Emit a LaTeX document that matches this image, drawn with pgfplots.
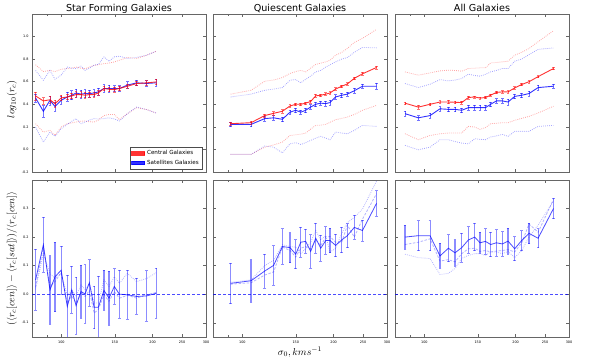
\documentclass[border=0pt]{standalone}
\usepackage{pgfplots}
\pgfplotsset{compat=1.18}
\usepackage{pgfplotstable}
\usepackage{fontspec}
\setmainfont{DejaVu Sans}
\newcommand{\tickfont}{\fontsize{3.4}{4}\selectfont}

\pgfplotstableread{
x r re b be ru bu rl bl
82.2 0.474 0.035 0.456 0.035 0.75 0.70 0.228 0.198
87.2 0.430 0.030 0.338 0.050 0.69 0.613 0.154 0.065
91.7 0.440 0.030 0.435 0.040 0.70 0.70 0.169 0.154
95.3 0.405 0.030 0.380 0.040 0.69 0.622 0.124 0.116
99.8 0.456 0.025 0.435 0.035 0.71 0.658 0.198 0.184
104.6 0.465 0.025 0.465 0.040 0.717 0.73 0.228 0.222
108.2 0.474 0.025 0.480 0.040 0.72 0.72 0.235 0.25
111.8 0.486 0.025 0.500 0.035 0.73 0.717 0.243 0.273
116.1 0.486 0.025 0.490 0.035 0.72 0.738 0.25 0.228
119.7 0.480 0.025 0.495 0.035 0.715 0.70 0.252 0.243
123.7 0.486 0.020 0.495 0.030 0.73 0.72 0.245 0.26
128.2 0.486 0.020 0.500 0.030 0.745 0.747 0.243 0.273
132.4 0.500 0.020 0.510 0.030 0.75 0.753 0.26 0.27
138.2 0.540 0.020 0.540 0.035 0.76 0.82 0.30 0.273
143.6 0.533 0.020 0.540 0.030 0.765 0.78 0.31 0.28
149.5 0.530 0.020 0.540 0.025 0.775 0.82 0.31 0.27
155.4 0.540 0.020 0.540 0.025 0.79 0.826 0.264 0.252
165.1 0.560 0.020 0.570 0.030 0.815 0.806 0.317 0.317
177.2 0.584 0.020 0.590 0.025 0.806 0.815 0.37 0.376
191.2 0.590 0.020 0.585 0.025 0.835 0.835 0.353 0.353
205.3 0.598 0.025 0.590 0.030 0.87 0.87 0.323 0.323
}\tabA

\pgfplotstableread{
x r re b be ru bu rl bl
91.5 0.228 0.015 0.222 0.020 0.49 0.465 -0.044 -0.044
106.8 0.237 0.015 0.222 0.020 0.524 0.49 -0.044 -0.044
118.5 0.300 0.015 0.273 0.020 0.604 0.524 0.02 0.03
126.8 0.320 0.015 0.280 0.020 0.615 0.535 0.04 0.02
135.5 0.338 0.015 0.267 0.020 0.637 0.548 0.065 -0.03
143.6 0.385 0.012 0.330 0.020 0.673 0.613 0.124 0.05
150.0 0.400 0.012 0.347 0.020 0.69 0.619 0.13 0.06
155.8 0.400 0.012 0.330 0.020 0.70 0.59 0.135 0.044
161.8 0.410 0.012 0.347 0.020 0.687 0.622 0.145 0.06
168.0 0.425 0.012 0.376 0.020 0.72 0.65 0.18 0.08
174.6 0.475 0.012 0.400 0.020 0.753 0.687 0.213 0.10
181.4 0.480 0.012 0.410 0.020 0.765 0.70 0.215 0.116
188.4 0.490 0.012 0.406 0.020 0.776 0.73 0.222 0.10
194.6 0.500 0.012 0.415 0.020 0.79 0.75 0.24 0.086
203.0 0.535 0.012 0.465 0.020 0.835 0.776 0.264 0.154
212.7 0.560 0.012 0.480 0.020 0.86 0.80 0.275 0.145
222.0 0.580 0.012 0.490 0.020 0.895 0.815 0.287 0.139
234.0 0.630 0.012 0.520 0.020 0.948 0.86 0.31 0.169
249.0 0.670 0.012 0.560 0.020 0.984 0.904 0.347 0.213
277.0 0.726 0.012 0.560 0.028 1.064 0.90 0.39 0.204
}\tabB

\pgfplotstableread{
x r re b be ru bu rl bl
86.3 0.410 0.012 0.317 0.020 0.687 0.584 0.139 0.036
95.5 0.375 0.015 0.280 0.020 0.658 0.548 0.086 -0.003
104.4 0.400 0.012 0.300 0.022 0.678 0.578 0.124 0.02
112.6 0.420 0.012 0.360 0.020 0.696 0.619 0.139 0.086
120.0 0.420 0.015 0.355 0.020 0.702 0.607 0.145 0.086
126.2 0.418 0.012 0.355 0.020 0.70 0.615 0.145 0.07
132.8 0.415 0.012 0.347 0.020 0.693 0.628 0.145 0.056
139.7 0.460 0.012 0.370 0.020 0.717 0.667 0.204 0.05
146.6 0.465 0.010 0.370 0.020 0.72 0.655 0.198 0.095
152.6 0.455 0.010 0.370 0.020 0.723 0.649 0.178 0.09
159.0 0.460 0.010 0.370 0.020 0.723 0.665 0.193 0.086
165.5 0.480 0.010 0.400 0.020 0.767 0.687 0.228 0.11
172.8 0.505 0.010 0.430 0.020 0.77 0.70 0.232 0.12
180.9 0.510 0.010 0.430 0.020 0.776 0.717 0.237 0.133
188.8 0.510 0.010 0.420 0.025 0.782 0.717 0.237 0.116
198.6 0.545 0.010 0.470 0.020 0.835 0.782 0.258 0.16
209.4 0.575 0.010 0.480 0.020 0.86 0.80 0.275 0.16
221.4 0.600 0.010 0.495 0.020 0.895 0.84 0.293 0.16
237.2 0.645 0.010 0.548 0.020 0.954 0.886 0.323 0.204
266.6 0.717 0.010 0.560 0.020 1.052 0.90 0.382 0.213
}\tabC

\pgfplotstableread{
x s se d t
82.2 0.050 0.107 0.024 0.017
87.2 0.173 0.096 0.167 0.142
91.7 0.015 0.120 0.027 0.073
95.3 0.061 0.122 0.044 0.055
99.8 0.084 0.084 0.075 0.073
104.6 -0.043 0.110 -0.031 -0.006
108.2 0.015 0.082 -0.006 0.015
111.8 -0.040 0.100 -0.031 -0.006
116.1 0.009 0.092 0.006 0.032
119.7 0.001 0.102 -0.008 0.017
123.7 0.040 0.081 0.013 0.038
128.2 -0.046 0.075 -0.066 -0.031
132.4 -0.046 0.110 -0.054 -0.031
138.2 0.013 0.070 -0.002 0.050
143.6 -0.014 0.095 -0.025 0.027
149.5 0.027 0.062 0.009 0.061
155.4 0.000 0.084 -0.014 0.038
165.1 -0.002 0.085 -0.004 0.073
177.2 -0.008 0.063 -0.014 0.044
191.2 -0.006 0.088 -0.002 0.055
205.3 0.003 0.087 0.006 0.075
}\tabD

\pgfplotstableread{
x s se d t
91.5 0.038 0.071 0.035 0.042
106.8 0.047 0.074 0.040 0.050
118.5 0.081 0.059 0.067 0.100
126.8 0.101 0.069 0.078 0.119
135.5 0.167 0.062 0.165 0.173
143.6 0.163 0.053 0.153 0.167
150.0 0.140 0.051 0.130 0.165
155.8 0.182 0.052 0.161 0.142
161.8 0.185 0.042 0.167 0.160
168.0 0.150 0.058 0.159 0.182
174.6 0.196 0.052 0.190 0.223
181.4 0.161 0.046 0.170 0.190
188.4 0.188 0.048 0.200 0.205
194.6 0.188 0.043 0.202 0.148
203.0 0.171 0.040 0.182 0.160
212.7 0.190 0.044 0.182 0.213
222.0 0.205 0.042 0.242 0.251
234.0 0.234 0.042 0.200 0.269
249.0 0.223 0.037 0.263 0.298
277.0 0.318 0.044 0.352 0.396
}\tabE

\pgfplotstableread{
x s se d t
86.3 0.200 0.042 0.174 0.140
95.5 0.205 0.053 0.182 0.128
104.4 0.205 0.052 0.194 0.125
112.6 0.134 0.044 0.116 0.069
120.0 0.161 0.047 0.121 0.073
126.2 0.145 0.046 0.113 0.090
132.8 0.163 0.050 0.142 0.125
139.7 0.190 0.046 0.159 0.136
146.6 0.200 0.048 0.161 0.142
152.6 0.180 0.037 0.150 0.142
159.0 0.185 0.044 0.153 0.136
165.5 0.174 0.043 0.148 0.148
172.8 0.180 0.046 0.151 0.148
180.9 0.176 0.043 0.153 0.142
188.8 0.186 0.045 0.156 0.150
198.6 0.159 0.042 0.148 0.128
209.4 0.188 0.035 0.179 0.153
221.4 0.213 0.036 0.246 0.200
237.2 0.196 0.033 0.217 0.242
266.6 0.300 0.036 0.332 0.326
}\tabF

\pgfplotsset{
  every axis title/.style={at={(0.5,1)}, anchor=base, yshift=3pt,
    font=\fontsize{9.6}{11}\selectfont},
  every axis/.append style={scale only axis, width=174pt,
    xmin=80, xmax=300,
    tick label style={font=\tickfont},
    axis line style={black!60, line width=0.7pt},
    tick style={black!60, line width=0.45pt},
    major tick length=3pt, minor tick length=1.6pt,
    label style={font=\fontsize{10}{12}\selectfont},
  },
  rsMain/.style={no marks, line width=0.9pt, forget plot, opacity=0.8,
    error bars/y dir=both, error bars/y explicit,
    error bars/error bar style={line width=0.6pt, opacity=0.55},
    error bars/error mark options={rotate=90, mark size=1.3pt, line width=0.6pt, opacity=0.55}},
  rsDots/.style={no marks, line width=0.8pt, opacity=0.35, forget plot,
    dash pattern=on 0.8pt off 1.2pt},
  rsSMain/.style={no marks, color=blue, opacity=0.7, line width=0.8pt, forget plot},
  rsSErr/.style={draw=none, no marks, forget plot,
    error bars/y dir=both, error bars/y explicit,
    error bars/error bar style={blue, opacity=0.45, line width=1.1pt},
    error bars/error mark options={rotate=90, mark size=1.4pt, blue, opacity=0.45, line width=0.7pt}},
  rsSDash/.style={no marks, color=blue, opacity=0.3, line width=0.8pt, forget plot, dash pattern=on 2.5pt off 1.5pt},
  rsSDot/.style={no marks, color=blue, opacity=0.3, line width=0.8pt, forget plot, dash pattern=on 0.8pt off 1.2pt},
  rsZero/.style={no marks, color=blue, opacity=0.7, line width=0.8pt, forget plot, dash pattern=on 3pt off 2pt},
}

\begin{document}
\begin{tikzpicture}
\path[use as bounding box] (0,0) rectangle (598pt,-362pt);

% ---------- top row ----------
\begin{axis}[xmode=log, height=158pt, ymin=-0.2, ymax=1.2,
  xtick={100,150,200,250,300}, xticklabels={}, minor xtick={90},
  ytick={-0.2,0,0.2,0.4,0.6,0.8,1.0},
  at={(32pt,-14pt)}, anchor=north west,
  title={Star Forming Galaxies},
  yticklabels={-0.2,0.0,0.2,0.4,0.6,0.8,1.0},
  ylabel={$log_{10}(r_c)$},
  ylabel style={at={(axis description cs:-0.115,0.46)}, anchor=center},
  legend style={at={(0.977,0.019)}, anchor=south east, draw=black!70,
    line width=0.5pt, font=\fontsize{5.6}{6.2}\selectfont, inner sep=1pt,
    row sep=-0.5pt},
  legend cell align=left, reverse legend]
\addplot[red, rsDots] table[x=x,y=ru] {\tabA};
\addplot[blue, rsDots] table[x=x,y=bu] {\tabA};
\addplot[red, rsDots] table[x=x,y=rl] {\tabA};
\addplot[blue, rsDots] table[x=x,y=bl] {\tabA};
\addplot[blue, no marks, line width=0.9pt, opacity=0.8,
  error bars/y dir=both, error bars/y explicit,
  error bars/error bar style={line width=0.6pt, opacity=0.55},
  error bars/error mark options={rotate=90, mark size=1.3pt, line width=0.6pt, opacity=0.55},
  legend image code/.code={\fill[blue] (0pt,-1.7pt) rectangle (13pt,1.7pt);}]
  table[x=x,y=b,y error=be] {\tabA};
\addlegendentry{Satellites Galaxies}
\addplot[red, no marks, line width=0.9pt, opacity=0.8,
  error bars/y dir=both, error bars/y explicit,
  error bars/error bar style={line width=0.6pt, opacity=0.55},
  error bars/error mark options={rotate=90, mark size=1.3pt, line width=0.6pt, opacity=0.55},
  legend image code/.code={\fill[red] (0pt,-1.7pt) rectangle (13pt,1.7pt);}]
  table[x=x,y=r,y error=re] {\tabA};
\addlegendentry{Central Galaxies}
\end{axis}

\begin{axis}[xmode=log, height=158pt, ymin=-0.2, ymax=1.2,
  xtick={100,150,200,250,300}, xticklabels={}, minor xtick={90},
  ytick={-0.2,0,0.2,0.4,0.6,0.8,1.0}, yticklabels={},
  at={(213pt,-14pt)}, anchor=north west,
  title={Quiescent Galaxies}]
\addplot[red, rsDots] table[x=x,y=ru] {\tabB};
\addplot[blue, rsDots] table[x=x,y=bu] {\tabB};
\addplot[red, rsDots] table[x=x,y=rl] {\tabB};
\addplot[blue, rsDots] table[x=x,y=bl] {\tabB};
\addplot[blue, rsMain] table[x=x,y=b,y error=be] {\tabB};
\addplot[red, rsMain] table[x=x,y=r,y error=re] {\tabB};
\end{axis}

\begin{axis}[xmode=log, height=158pt, ymin=-0.2, ymax=1.2,
  xtick={100,150,200,250,300}, xticklabels={}, minor xtick={90},
  ytick={-0.2,0,0.2,0.4,0.6,0.8,1.0}, yticklabels={},
  at={(395pt,-14pt)}, anchor=north west,
  title={All Galaxies}]
\addplot[red, rsDots] table[x=x,y=ru] {\tabC};
\addplot[blue, rsDots] table[x=x,y=bu] {\tabC};
\addplot[red, rsDots] table[x=x,y=rl] {\tabC};
\addplot[blue, rsDots] table[x=x,y=bl] {\tabC};
\addplot[blue, rsMain] table[x=x,y=b,y error=be] {\tabC};
\addplot[red, rsMain] table[x=x,y=r,y error=re] {\tabC};
\end{axis}

% ---------- bottom row ----------
\begin{axis}[xmode=log, height=157pt, ymin=-0.15, ymax=0.4,
  xtick={100,150,200,250,300}, xticklabels={100,150,200,250,300}, minor xtick={90},
  ytick={-0.1,0,0.1,0.2,0.3}, yticklabels={-0.1,0.0,0.1,0.2,0.3},
  at={(32pt,-180pt)}, anchor=north west,
  ylabel={$(\langle r_c[cen]\rangle - \langle r_c[sat]\rangle)/\langle r_c[cen]\rangle$},
  ylabel style={at={(axis description cs:-0.115,0.5)}, anchor=center}]
\addplot[rsZero] coordinates {(80,0) (300,0)};
\addplot[rsSDot] table[x=x,y=t] {\tabD};
\addplot[rsSDash] table[x=x,y=d] {\tabD};
\addplot[rsSErr] table[x=x,y=s,y error=se] {\tabD};
\addplot[rsSMain] table[x=x,y=s] {\tabD};
\end{axis}

\begin{axis}[xmode=log, height=157pt, ymin=-0.15, ymax=0.4,
  xtick={100,150,200,250,300}, xticklabels={100,150,200,250,300}, minor xtick={90},
  ytick={-0.1,0,0.1,0.2,0.3}, yticklabels={},
  at={(213pt,-180pt)}, anchor=north west,
  xlabel={$\sigma_0, kms^{-1}$},
  xlabel style={at={(axis description cs:0.5,-0.095)}, anchor=center}]
\addplot[rsZero] coordinates {(80,0) (300,0)};
\addplot[rsSDot] table[x=x,y=t] {\tabE};
\addplot[rsSDash] table[x=x,y=d] {\tabE};
\addplot[rsSErr] table[x=x,y=s,y error=se] {\tabE};
\addplot[rsSMain] table[x=x,y=s] {\tabE};
\end{axis}

\begin{axis}[xmode=log, height=157pt, ymin=-0.15, ymax=0.4,
  xtick={100,150,200,250,300}, xticklabels={100,150,200,250,300}, minor xtick={90},
  ytick={-0.1,0,0.1,0.2,0.3}, yticklabels={},
  at={(395pt,-180pt)}, anchor=north west]
\addplot[rsZero] coordinates {(80,0) (300,0)};
\addplot[rsSDot] table[x=x,y=t] {\tabF};
\addplot[rsSDash] table[x=x,y=d] {\tabF};
\addplot[rsSErr] table[x=x,y=s,y error=se] {\tabF};
\addplot[rsSMain] table[x=x,y=s] {\tabF};
\end{axis}
\end{tikzpicture}
\end{document}
